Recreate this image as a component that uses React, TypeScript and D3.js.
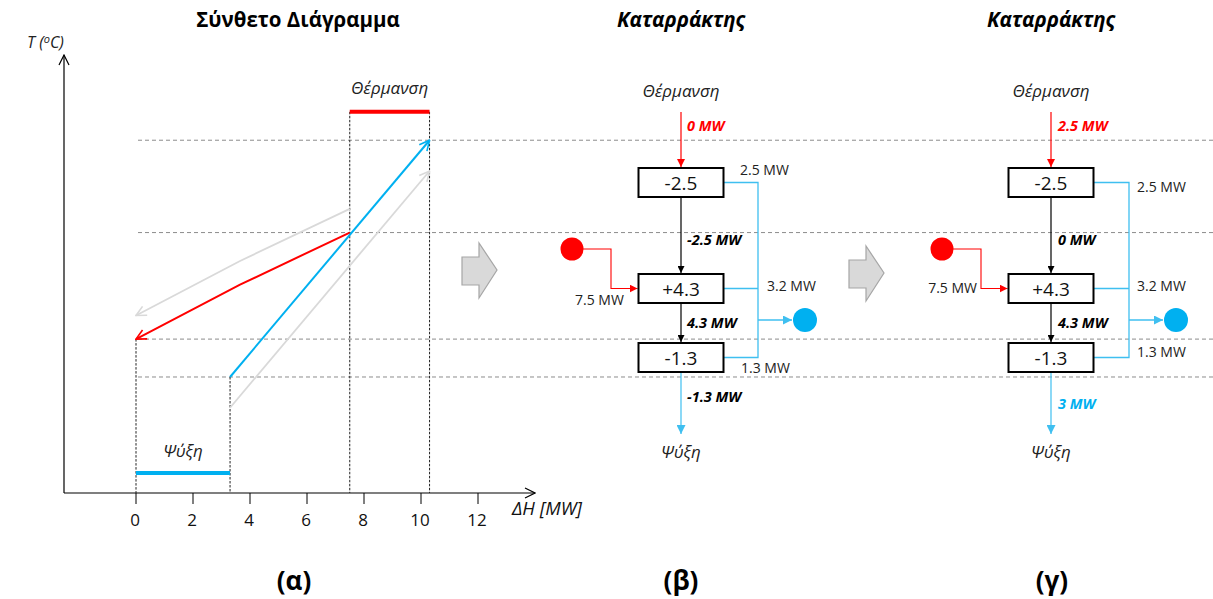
import React from "react";
import * as d3 from "d3";

// ---- Composite diagram data (ΔH in MW, shifted temperature in arbitrary units) ----
const xTicks = [0, 2, 4, 6, 8, 10, 12];
const intervalTemps = [149, 110, 65, 49];
const hotComposite = [
  { dh: 7.5, t: 110 },
  { dh: 3.65, t: 88 },
  { dh: 0, t: 65 },
];
const hotCompositeOriginal = [
  { dh: 7.5, t: 120 },
  { dh: 3.65, t: 98 },
  { dh: 0, t: 75 },
];
const coldComposite = [
  { dh: 3.3, t: 49 },
  { dh: 10.3, t: 149 },
];
const coldCompositeOriginal = [
  { dh: 3.3, t: 36 },
  { dh: 10.3, t: 136 },
];
const heatingRange = [7.5, 10.3];
const heatingLevel = 161;
const coolingRange = [0, 3.3];
const coolingLevel = 8.5;

// ---- Cascade data ----
const intervalBalance = ["-2.5", "+4.3", "-1.3"];
const hotStreamIn = ["7.5 MW"];
const coldStreamOut = ["2.5 MW", "3.2 MW", "1.3 MW"];
const cascadeFlowsB = ["0 MW", "-2.5 MW", "4.3 MW", "-1.3 MW"];
const cascadeFlowsG = ["2.5 MW", "0 MW", "4.3 MW", "3 MW"];

const FONT = "'Open Sans', 'Noto Sans', sans-serif";
const RED = "#ff0000";
const BLUE = "#00b0f0";
const LIGHTBLUE = "#3fbff0";
const GREY = "#d9d9d9";

function BlockArrow({ x0, y0 }: { x0: number; y0: number }) {
  const d = `M${x0},${y0 + 14} L${x0 + 17},${y0 + 14} L${x0 + 17},${y0} L${x0 + 35},${y0 + 27} L${x0 + 17},${y0 + 55} L${x0 + 17},${y0 + 42} L${x0},${y0 + 42} Z`;
  return <path d={d} fill="#d9d9d9" stroke="#a6a6a6" strokeWidth={1.2} />;
}

type Layout = {
  cx: number;
  collector: number;
  sideLabels: { x: number; y: number }[];
  hotLabel: { x: number; y: number; anchor: string };
  flowLabelX: number;
  flowLabelY: number[];
  lastColor: string;
};

function Cascade({ title, flows, layout }: { title: string; flows: string[]; layout: Layout }) {
  const { cx, collector } = layout;
  const boxW = 85;
  const boxH = 29;
  const boxTops = [168, 274, 343];
  const mids = boxTops.map((t) => t + boxH / 2);
  const left = cx - boxW / 2;
  const right = cx + boxW / 2;
  const hotCircleX = cx - 109;
  const hotElbowX = cx - 70;
  const hotCircleY = 249;
  const coldCircleX = collector + 47;
  const coldArrowY = 320;
  const flowColors = [RED, "#000", "#000", layout.lastColor];
  const segs = [
    [112, boxTops[0]],
    [boxTops[0] + boxH, boxTops[1]],
    [boxTops[1] + boxH, boxTops[2]],
    [boxTops[2] + boxH, 435],
  ];
  const segColors = [RED, "#000", "#000", LIGHTBLUE];
  const markerIds = ["tri-red", "tri-black", "tri-black", "tri-blue"];
  return (
    <g fontFamily={FONT}>
      <text x={cx} y={27} textAnchor="middle" fontSize={20.5} fontWeight="bold" fontStyle="italic" fill="#000">
        {title}
      </text>
      <text x={cx} y={97} textAnchor="middle" fontSize={17} fontStyle="italic" fill="#222">
        Θέρμανση
      </text>
      <text x={cx} y={458} textAnchor="middle" fontSize={17} fontStyle="italic" fill="#222">
        Ψύξη
      </text>
      {segs.map(([a, b], i) => (
        <line key={i} x1={cx} x2={cx} y1={a} y2={b - 1} stroke={segColors[i]} strokeWidth={1.2} markerEnd={`url(#${markerIds[i]})`} />
      ))}
      {flows.map((f, i) => (
        <text key={i} x={layout.flowLabelX} y={layout.flowLabelY[i] + 5} fontSize={14.5} fontWeight="bold" fontStyle="italic" fill={flowColors[i]}>
          {f}
        </text>
      ))}
      {/* cold stream collector */}
      <path
        d={`M${right},${mids[0]} H${collector} V${mids[2]} H${right} M${right},${mids[1]} H${collector}`}
        fill="none"
        stroke={LIGHTBLUE}
        strokeWidth={1.3}
      />
      <line x1={collector} x2={coldCircleX - 13} y1={coldArrowY} y2={coldArrowY} stroke={LIGHTBLUE} strokeWidth={1.3} markerEnd="url(#tri-blue)" />
      <circle cx={coldCircleX} cy={coldArrowY} r={12} fill={BLUE} />
      {/* hot stream input */}
      <circle cx={hotCircleX} cy={hotCircleY} r={11.5} fill={RED} />
      <path d={`M${hotCircleX},${hotCircleY} H${hotElbowX} V${mids[1]} H${left - 1}`} fill="none" stroke={RED} strokeWidth={1.1} markerEnd="url(#tri-red)" />
      <text x={layout.hotLabel.x} y={layout.hotLabel.y + 5} textAnchor={layout.hotLabel.anchor} fontSize={14} fill="#222">
        {hotStreamIn[0]}
      </text>
      {coldStreamOut.map((s, i) => (
        <text key={i} x={layout.sideLabels[i].x} y={layout.sideLabels[i].y + 5} fontSize={14} fill="#222">
          {s}
        </text>
      ))}
      {boxTops.map((t, i) => (
        <g key={i}>
          <rect x={left} y={t} width={boxW} height={boxH} fill="#fff" stroke="#000" strokeWidth={2} />
          <text x={cx} y={t + boxH / 2 + 7} textAnchor="middle" fontSize={19} fill="#111">
            {intervalBalance[i]}
          </text>
        </g>
      ))}
    </g>
  );
}

export default function App() {
  const x = d3.scaleLinear().domain([0, 12]).range([136, 478]);
  const y = d3.scaleLinear().domain([0, 185]).range([493, 55]);
  const line = d3
    .line<{ dh: number; t: number }>()
    .x((d) => x(d.dh))
    .y((d) => y(d.t));

  const axisY = y(0);
  const axisX = 64;

  return (
    <svg
      width={1213}
      height={599}
      style={{ position: "absolute", left: 0, top: 0, background: "#fff" }}
      fontFamily={FONT}
    >
      <defs>
        <marker id="open-black" viewBox="0 0 12 12" refX="11" refY="6" markerWidth={12} markerHeight={12} markerUnits="userSpaceOnUse" orient="auto">
          <path d="M1,1 L11,6 L1,11" fill="none" stroke="#000" strokeWidth={1.2} />
        </marker>
        <marker id="open-red" viewBox="0 0 12 12" refX="11" refY="6" markerWidth={12} markerHeight={12} markerUnits="userSpaceOnUse" orient="auto">
          <path d="M1,1 L11,6 L1,11" fill="none" stroke={RED} strokeWidth={1.6} />
        </marker>
        <marker id="open-blue" viewBox="0 0 12 12" refX="11" refY="6" markerWidth={12} markerHeight={12} markerUnits="userSpaceOnUse" orient="auto">
          <path d="M1,1 L11,6 L1,11" fill="none" stroke={BLUE} strokeWidth={1.6} />
        </marker>
        <marker id="open-grey" viewBox="0 0 12 12" refX="11" refY="6" markerWidth={12} markerHeight={12} markerUnits="userSpaceOnUse" orient="auto">
          <path d="M1,1 L11,6 L1,11" fill="none" stroke={GREY} strokeWidth={1.6} />
        </marker>
        <marker id="tri-red" viewBox="0 0 10 10" refX="10" refY="5" markerWidth={8} markerHeight={8} markerUnits="userSpaceOnUse" orient="auto">
          <path d="M0,0 L10,5 L0,10 Z" fill={RED} />
        </marker>
        <marker id="tri-black" viewBox="0 0 10 10" refX="10" refY="5" markerWidth={7} markerHeight={7} markerUnits="userSpaceOnUse" orient="auto">
          <path d="M0,0 L10,5 L0,10 Z" fill="#000" />
        </marker>
        <marker id="tri-blue" viewBox="0 0 10 10" refX="10" refY="5" markerWidth={9} markerHeight={9} markerUnits="userSpaceOnUse" orient="auto">
          <path d="M0,0 L10,5 L0,10 Z" fill={LIGHTBLUE} />
        </marker>
      </defs>

      {/* temperature interval boundaries */}
      {intervalTemps.map((t, i) => (
        <line key={i} x1={138} x2={1213} y1={y(t)} y2={y(t)} stroke="#8c8c8c" strokeWidth={1} strokeDasharray="4,3" />
      ))}

      {/* composite diagram */}
      <text x={298} y={27} textAnchor="middle" fontSize={20.5} fontWeight="bold" fill="#000">
        Σύνθετο Διάγραμμα
      </text>
      <text x={27} y={48} fontSize={16} fontStyle="italic" fill="#222">
        T (<tspan fontSize={11} dy={-5}>o</tspan>
        <tspan dy={5}>C)</tspan>
      </text>
      <line x1={axisX} x2={axisX} y1={axisY} y2={55} stroke="#000" strokeWidth={1.2} markerEnd="url(#open-black)" />
      <line x1={axisX} x2={535} y1={axisY} y2={axisY} stroke="#000" strokeWidth={1.2} markerEnd="url(#open-black)" />
      {xTicks.map((t) => (
        <g key={t}>
          <line x1={x(t)} x2={x(t)} y1={axisY} y2={axisY + 11} stroke="#000" strokeWidth={1} />
          <text x={x(t) - 1} y={axisY + 33} textAnchor="middle" fontSize={17} fill="#111">
            {t}
          </text>
        </g>
      ))}
      <text x={512} y={515} fontSize={18.5} fontStyle="italic" fill="#111">
        ΔH [MW]
      </text>

      {/* utility guides */}
      {[
        [heatingRange[0], heatingLevel],
        [heatingRange[1], heatingLevel],
        [hotComposite[hotComposite.length - 1].dh, hotComposite[hotComposite.length - 1].t],
        [coldComposite[0].dh, coldComposite[0].t],
      ].map(([dh, t], i) => (
        <line key={i} x1={x(dh)} x2={x(dh)} y1={y(t)} y2={axisY} stroke="#222" strokeWidth={1} strokeDasharray="2.5,1.5" />
      ))}

      {/* original (unshifted) composites */}
      <path d={line(hotCompositeOriginal) || ""} fill="none" stroke={GREY} strokeWidth={1.8} markerEnd="url(#open-grey)" />
      <path d={line(coldCompositeOriginal) || ""} fill="none" stroke={GREY} strokeWidth={1.8} markerEnd="url(#open-grey)" />
      {/* shifted composites */}
      <path d={line(hotComposite) || ""} fill="none" stroke={RED} strokeWidth={2} markerEnd="url(#open-red)" />
      <path d={line(coldComposite) || ""} fill="none" stroke={BLUE} strokeWidth={2} markerEnd="url(#open-blue)" />

      {/* utility bars */}
      <line x1={x(heatingRange[0])} x2={x(heatingRange[1])} y1={y(heatingLevel)} y2={y(heatingLevel)} stroke={RED} strokeWidth={4} />
      <text x={(x(heatingRange[0]) + x(heatingRange[1])) / 2} y={y(heatingLevel) - 18} textAnchor="middle" fontSize={17} fontStyle="italic" fill="#222">
        Θέρμανση
      </text>
      <line x1={x(coolingRange[0])} x2={x(coolingRange[1])} y1={y(coolingLevel)} y2={y(coolingLevel)} stroke={BLUE} strokeWidth={4} />
      <text x={(x(coolingRange[0]) + x(coolingRange[1])) / 2} y={y(coolingLevel) - 16} textAnchor="middle" fontSize={17} fontStyle="italic" fill="#222">
        Ψύξη
      </text>

      <BlockArrow x0={462} y0={243} />
      <BlockArrow x0={849} y0={246} />

      <Cascade
        title="Καταρράκτης"
        flows={cascadeFlowsB}
        layout={{
          cx: 681,
          collector: 758,
          sideLabels: [
            { x: 740, y: 170 },
            { x: 767, y: 286 },
            { x: 741, y: 368 },
          ],
          hotLabel: { x: 575, y: 300, anchor: "start" },
          flowLabelX: 687,
          flowLabelY: [126, 240, 323, 397],
          lastColor: "#000",
        }}
      />
      <Cascade
        title="Καταρράκτης"
        flows={cascadeFlowsG}
        layout={{
          cx: 1051,
          collector: 1129,
          sideLabels: [
            { x: 1137, y: 187 },
            { x: 1137, y: 286 },
            { x: 1137, y: 352 },
          ],
          hotLabel: { x: 977, y: 288, anchor: "end" },
          flowLabelX: 1058,
          flowLabelY: [126, 240, 323, 404],
          lastColor: BLUE,
        }}
      />

      {/* panel captions */}
      {[
        ["(α)", 294],
        ["(β)", 681],
        ["(γ)", 1052],
      ].map(([s, cx]) => (
        <text key={s as string} x={cx as number} y={590} textAnchor="middle" fontSize={26} fontWeight="bold" fill="#000">
          {s}
        </text>
      ))}
    </svg>
  );
}
